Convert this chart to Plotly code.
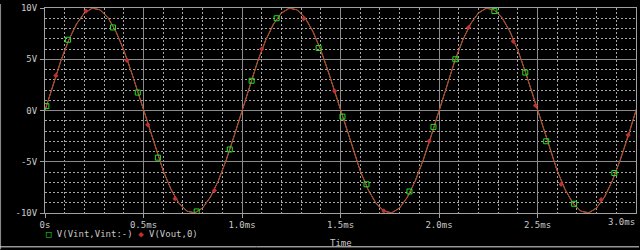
import plotly.graph_objects as go

# ---- data ----
time_ms = [0.00, 0.04, 0.08, 0.12, 0.16, 0.20, 0.24, 0.28, 0.32, 0.36, 0.40, 0.44, 0.48, 0.52, 0.56, 0.60,
           0.64, 0.68, 0.72, 0.76, 0.80, 0.84, 0.88, 0.92, 0.96, 1.00, 1.04, 1.08, 1.12, 1.16, 1.20, 1.24,
           1.28, 1.32, 1.36, 1.40, 1.44, 1.48, 1.52, 1.56, 1.60, 1.64, 1.68, 1.72, 1.76, 1.80, 1.84, 1.88,
           1.92, 1.96, 2.00, 2.04, 2.08, 2.12, 2.16, 2.20, 2.24, 2.28, 2.32, 2.36, 2.40, 2.44, 2.48, 2.52,
           2.56, 2.60, 2.64, 2.68, 2.72, 2.76, 2.80, 2.84, 2.88, 2.92, 2.96, 3.00, 3.04]
v_out = [0.00, 2.49, 4.82, 6.85, 8.44, 9.51, 9.98, 9.82, 9.05, 7.71, 5.88, 3.68, 1.25, -1.25, -3.68, -5.88,
         -7.71, -9.05, -9.82, -9.98, -9.51, -8.44, -6.85, -4.82, -2.49, 0.00, 2.49, 4.82, 6.85, 8.44, 9.51, 9.98,
         9.82, 9.05, 7.71, 5.88, 3.68, 1.25, -1.25, -3.68, -5.88, -7.71, -9.05, -9.82, -9.98, -9.51, -8.44, -6.85,
         -4.82, -2.49, 0.00, 2.49, 4.82, 6.85, 8.44, 9.51, 9.98, 9.82, 9.05, 7.71, 5.88, 3.68, 1.25, -1.25,
         -3.68, -5.88, -7.71, -9.05, -9.82, -9.98, -9.51, -8.44, -6.85, -4.82, -2.49, 0.00, 2.49]
v_int = v_out

# marker positions along traces
vint_mark_t = [0.007, 0.117, 0.345, 0.471, 0.573, 0.770, 0.938, 1.049, 1.176, 1.389, 1.510, 1.632,
               1.850, 1.972, 2.083, 2.281, 2.438, 2.544, 2.686, 2.890]
vint_mark_v = [0.43, 6.90, 8.10, 1.75, -4.60, -9.85, -3.80, 2.90, 9.00, 6.10, -0.60, -7.20,
               -7.90, -1.60, 5.00, 9.70, 3.70, -3.00, -9.10, -6.10]
vout_mark_t = [0.055, 0.208, 0.416, 0.522, 0.660, 0.860, 1.100, 1.313, 1.470, 1.720, 1.950, 2.150,
               2.377, 2.490, 2.620, 2.823, 2.960]
vout_mark_v = [3.40, 9.70, 4.90, -1.40, -8.60, -7.80, 6.00, 8.95, 1.90, -9.80, -3.00, 8.10,
               6.75, 0.50, -7.20, -8.70, -2.40]

x_ticks = [0, 0.5, 1.0, 1.5, 2.0, 2.5]
x_tick_text = ["0s", "0.5ms", "1.0ms", "1.5ms", "2.0ms", "2.5ms"]
y_ticks = [-10, -5, 0, 5, 10]
y_tick_text = ["-10V", "-5V", "0V", "5V", "10V"]

RED = "#c03232"
GREEN = "#22e022"
TXT = "#c8c8c8"
FONT = "DejaVu Sans Mono"

fig = go.Figure()
fig.add_trace(go.Scatter(x=time_ms, y=v_int, mode="lines", line=dict(color="#8ad040", width=1),
                         hoverinfo="skip", showlegend=False))
fig.add_trace(go.Scatter(x=time_ms, y=v_out, mode="lines", line=dict(color=RED, width=1),
                         hoverinfo="skip", showlegend=False))
fig.add_trace(go.Scatter(x=vout_mark_t, y=vout_mark_v, mode="markers",
                         marker=dict(symbol="diamond", size=4, color=RED),
                         hoverinfo="skip", showlegend=False))
fig.add_trace(go.Scatter(x=vint_mark_t, y=vint_mark_v, mode="markers",
                         marker=dict(symbol="square-open", size=5, color=GREEN, line=dict(width=1, color=GREEN)),
                         hoverinfo="skip", showlegend=False))

L, R, T, B = 45, 3, 4, 37
W, H = 640, 250
pw, ph = W - L - R, H - T - B

def px(x):
    return (x - L) / pw

def py(y):
    return (H - B - y) / ph

axis_common = dict(showline=True, mirror=True, linecolor="#a0a0a0", linewidth=1,
                   showgrid=True, gridcolor="#8a8a8a", gridwidth=1, zeroline=False,
                   ticks="outside", ticklen=4, tickcolor="#a0a0a0", ticklabeloverflow="allow",
                   tickfont=dict(family=FONT, size=9, color=TXT))

fig.update_xaxes(range=[0, 3.0], tickvals=x_ticks, ticktext=x_tick_text, ticklabelstandoff=-1,
                 minor=dict(dtick=0.1, showgrid=True, gridcolor="#a8a8a8", griddash="2px,2px", gridwidth=1),
                 **axis_common)
fig.update_yaxes(range=[-10, 10], tickvals=y_ticks, ticktext=y_tick_text, ticklabelstandoff=1,
                 minor=dict(dtick=1, showgrid=True, gridcolor="#a8a8a8", griddash="2px,2px", gridwidth=1),
                 **axis_common)

legend_text = (f'<span style="color:{GREEN}">□</span> V(Vint,Vint:-) '
               f'<span style="color:{RED}">◆</span> V(Vout,0)')
fig.update_layout(
    width=W, height=H,
    margin=dict(l=L, r=R, t=T, b=B),
    paper_bgcolor="black", plot_bgcolor="black",
    showlegend=False,
    annotations=[
        dict(text="3.0ms", x=px(638), y=py(222.5), xref="paper", yref="paper", xanchor="right", yanchor="middle",
             showarrow=False, font=dict(family=FONT, size=9, color=TXT)),
        dict(text=legend_text, x=px(44), y=py(234), xref="paper", yref="paper", xanchor="left", yanchor="middle",
             showarrow=False, font=dict(family=FONT, size=9, color=TXT)),
        dict(text="Time", x=px(341), y=py(244), xref="paper", yref="paper", xanchor="center", yanchor="middle",
             showarrow=False, font=dict(family=FONT, size=9, color=TXT)),
    ],
    shapes=[
        dict(type="line", xref="paper", yref="paper", x0=px(0.5), x1=px(0.5), y0=py(0), y1=py(250),
             line=dict(color="#909090", width=1)),
        dict(type="line", xref="paper", yref="paper", x0=px(0), x1=px(640), y0=py(247.5), y1=py(247.5),
             line=dict(color="#e0e0e0", width=1)),
    ],
)

fig.write_html("out.html")
